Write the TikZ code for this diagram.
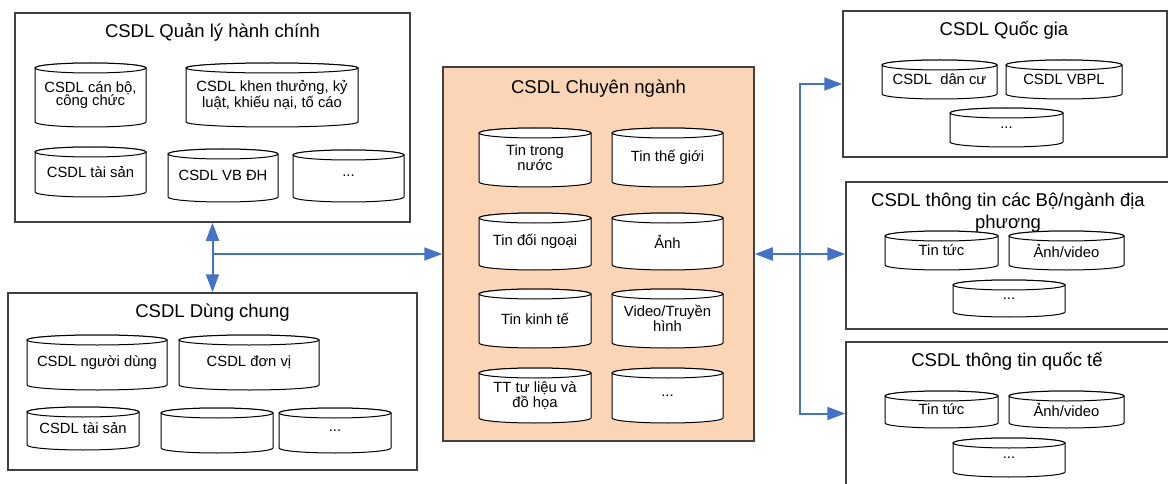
\documentclass[tikz,border=0pt]{standalone}
\usepackage{fontspec}
\setmainfont{Liberation Sans}
\usetikzlibrary{arrows.meta}
\definecolor{peach}{RGB}{251,213,181}
\definecolor{linkblue}{RGB}{68,114,196}
\definecolor{boxgray}{RGB}{64,64,64}
\newcommand{\cylnode}[5]{%
  \draw[dbline] (#2) ++(-#3/2,5-#4/2) -- ++(0,#4-10)
    arc[start angle=180,end angle=0,x radius=#3/2,y radius=5] -- ++(0,10-#4)
    arc[start angle=0,end angle=-180,x radius=#3/2,y radius=5] -- cycle;
  \draw[dbline] (#2) ++(0,5-#4/2) ellipse[x radius=#3/2,y radius=5];
  \node[dbtext] (#1) at (#2) {#5};}
\begin{document}
\begin{tikzpicture}
[x=1pt,y=-1pt,>={Triangle[length=18pt,width=13pt]},
 box/.style={draw=boxgray,line width=1.5pt,inner sep=0pt},
 boxtitle/.style={anchor=base,align=center,font=\fontsize{18.5}{21}\selectfont},
 dbline/.style={draw=black,line width=1pt,fill=white},
 dbtext/.style={inner sep=1pt,align=center,font=\fontsize{14.8}{13.5}\selectfont},
 link/.style={draw=linkblue,line width=2pt}]
\useasboundingbox (0,0) rectangle (1168,484);

\node[box,minimum width=395pt,minimum height=209pt] (ql) at (212.5,117.5) {};
\node[box,minimum width=409pt,minimum height=177pt] (dc) at (212.5,381.5) {};
\node[box,fill=peach,minimum width=311pt,minimum height=374pt] (cn) at (598.5,254) {};
\node[box,minimum width=324pt,minimum height=146pt] (qg) at (1005,84) {};
\node[box,minimum width=324pt,minimum height=147pt] (bn) at (1008,255.5) {};
\node[box,minimum width=324pt,minimum height=143pt] (qt) at (1008,413.5) {};

\node[boxtitle] (qlt) at (212.5,37.5) {CSDL Quản lý hành chính};
\node[boxtitle] (dct) at (212.5,317.5) {CSDL Dùng chung};
\node[boxtitle] (cnt) at (598.5,93.5) {CSDL Chuyên ngành};
\node[boxtitle] (qgt) at (1004,36) {CSDL Quốc gia};
\node[boxtitle] (bnt) at (1008,228) {CSDL thông tin các Bộ/ngành địa\\phương};
\node[boxtitle] (qtt) at (1007,366) {CSDL thông tin quốc tế};

\cylnode{ql1}{90.5,95}{111}{64}{CSDL cán bộ,\\công chức}
\cylnode{ql2}{272,95}{172}{64}{CSDL khen thưởng, kỷ\\luật, khiếu nại, tố cáo}
\cylnode{ql3}{90.5,172}{111}{50}{CSDL tài sản}
\cylnode{ql4}{223,175.5}{110}{53}{CSDL VB ĐH}
\cylnode{ql5}{348.5,176}{111}{52}{...}

\cylnode{dc1}{97,362.5}{140}{55}{CSDL người dùng}
\cylnode{dc2}{249,362.5}{140}{55}{CSDL đơn vị}
\cylnode{dc3}{83,428.5}{112}{43}{CSDL tài sản}
\cylnode{dc4}{217,430.5}{112}{45}{}
\cylnode{dc5}{335,430.5}{112}{45}{...}

\cylnode{cn1}{535,157.5}{112}{59}{Tin trong\\nước}
\cylnode{cn2}{667.5,157.5}{111}{59}{Tin thế giới}
\cylnode{cn3}{535,241.5}{112}{57}{Tin đối ngoại}
\cylnode{cn4}{667.5,241.5}{111}{57}{Ảnh}
\cylnode{cn5}{535,318.5}{112}{59}{Tin kinh tế}
\cylnode{cn6}{667.5,318.5}{111}{59}{Video/Truyền\\hình}
\cylnode{cn7}{535,395.5}{112}{55}{TT tư liệu và\\đồ họa}
\cylnode{cn8}{667.5,395.5}{111}{55}{...}

\cylnode{qg1}{939.5,79.5}{115}{39}{CSDL~ dân cư}
\cylnode{qg2}{1064,79.5}{116}{39}{CSDL VBPL}
\cylnode{qg3}{1006.5,127.5}{113}{39}{...}

\cylnode{bn1}{941.5,250.5}{113}{39}{Tin tức}
\cylnode{bn2}{1066.5,250.5}{115}{39}{Ảnh/video}
\cylnode{bn3}{1009,298.5}{112}{37}{...}

\cylnode{qt1}{941.5,409.5}{113}{37}{Tin tức}
\cylnode{qt2}{1066.5,409.5}{115}{37}{Ảnh/video}
\cylnode{qt3}{1009,457.5}{112}{39}{...}

\coordinate (lj) at (ql.south |- cn.west);
\coordinate (rj) at (800,254);
\draw[link,<->] (ql) -- (dc);
\draw[link,->] (lj) -- (cn.west);
\draw[link,<->] (cn.east) -- (cn.east -| bn.west);
\draw[link,<->] (qg.west) -- (rj |- qg.west) -- (rj |- qt.west) -- (qt.west);
\end{tikzpicture}
\end{document}
